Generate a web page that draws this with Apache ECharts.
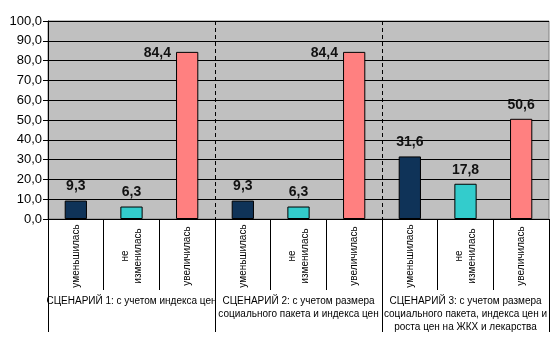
<!DOCTYPE html>
<html>
<head>
<meta charset="utf-8">
<script src="https://cdn.jsdelivr.net/npm/echarts@6/dist/echarts.min.js"></script>
<style>
  html, body { margin: 0; padding: 0; background: #fff; }
  #chart { width: 558px; height: 342px; }
</style>
</head>
<body>
<div id="chart"></div>
<script>
// Answer categories, repeated under each scenario
const categories = [
  'уменьшилась', 'не\nизменилась', 'увеличилась',
  'уменьшилась', 'не\nизменилась', 'увеличилась',
  'уменьшилась', 'не\nизменилась', 'увеличилась'
];
// Scenario group labels (second axis level)
const scenarios = [
  'СЦЕНАРИЙ 1: с учетом индекса цен',
  'СЦЕНАРИЙ 2: с учетом размера\nсоциального пакета и индекса цен',
  'СЦЕНАРИЙ 3: с учетом размера\nсоциального пакета, индекса цен и\nроста цен на ЖКХ и лекарства'
];
// Share of respondents, %
const values = [9.3, 6.3, 84.4, 9.3, 6.3, 84.4, 31.6, 17.8, 50.6];
// Value axis ticks
const yTicks = [0, 10, 20, 30, 40, 50, 60, 70, 80, 90, 100];

const barColors = ['#0f3358', '#33cccc', '#ff8080'];
const FONT = '"Liberation Sans", Arial, sans-serif';
const fmt = v => v.toFixed(1).replace('.', ',');

const chart = echarts.init(document.getElementById('chart'), null, { renderer: 'canvas' });

const barData = values.map((v, i) => {
  const item = {
    value: v,
    itemStyle: { color: barColors[i % 3], borderColor: '#000', borderWidth: 1 }
  };
  // tall bars carry their value to the left of the bar top
  if (v > 80) {
    item.label = { position: [-5, 1], align: 'right', verticalAlign: 'middle' };
  }
  return item;
});

chart.setOption({
  animation: false,
  backgroundColor: '#fff',
  grid: {
    left: 48, right: 9, top: 21, bottom: 123,
    show: true, backgroundColor: '#c0c0c0', borderColor: '#808080', borderWidth: 1
  },
  xAxis: [
    {
      type: 'category',
      position: 'bottom',
      data: categories,
      axisLine: { lineStyle: { color: '#000', width: 1 } },
      axisTick: { show: true, interval: 0, length: 71, lineStyle: { color: '#000' } },
      axisLabel: {
        interval: 0, rotate: 90, margin: 37, align: 'center',
        fontFamily: FONT, fontSize: 10, color: '#000', lineHeight: 13
      },
      splitLine: { show: false }
    },
    {
      type: 'category',
      position: 'bottom',
      data: scenarios,
      axisLine: { show: false },
      axisTick: { show: true, interval: 0, length: 113, lineStyle: { color: '#000' } },
      axisLabel: {
        interval: 0, margin: 76, fontFamily: FONT, fontSize: 10, color: '#000', lineHeight: 13
      },
      splitLine: {
        show: true, interval: 0, showMinLine: false, showMaxLine: false,
        lineStyle: { color: '#000', type: [4, 3], width: 1 }
      }
    }
  ],
  yAxis: {
    type: 'value',
    min: yTicks[0], max: yTicks[yTicks.length - 1], interval: yTicks[1] - yTicks[0],
    axisLine: { show: true, lineStyle: { color: '#000' } },
    axisTick: { show: true, length: 5, lineStyle: { color: '#000' } },
    axisLabel: { margin: 6, fontFamily: FONT, fontSize: 13, color: '#000', formatter: v => fmt(v) },
    splitLine: { show: true, lineStyle: { color: '#000', width: 1 } }
  },
  series: [{
    type: 'bar',
    xAxisIndex: 0,
    data: barData,
    barWidth: '40%',
    label: {
      show: true, position: 'top', distance: 7,
      fontFamily: FONT, fontSize: 14, fontWeight: 'bold', color: '#111',
      formatter: p => fmt(p.value)
    }
  }]
});
</script>
</body>
</html>
